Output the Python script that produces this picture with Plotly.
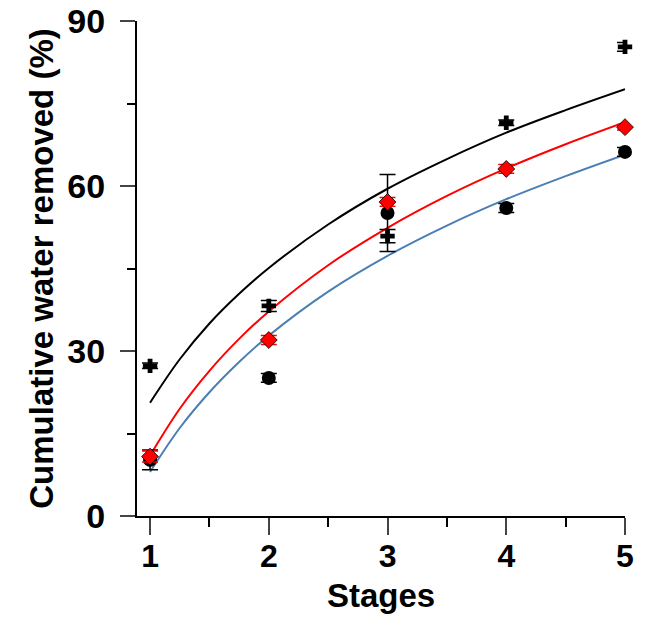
import plotly.graph_objects as go

stages = [1, 2, 3, 4, 5]

# measured points
cross_vals = [27.3, 38.2, 50.9, 71.5, 85.3]
cross_err = [0.5, 1.0, 1.2, 0.5, 0.8]
circle_vals = [10.2, 25.1, 55.1, 56.0, 66.2]
circle_err = [1.8, 0.8, 7.0, 0.8, 0.8]
diamond_vals = [10.8, 32.0, 57.1, 63.1, 70.7]
diamond_err = [1.0, 0.8, 0.8, 0.8, 0.5]

# fitted curves
curve_x = [1, 1.25, 1.5, 1.75, 2, 2.5, 3, 3.5, 4, 4.5, 5]
curve_black = [20.6, 28.5, 35.0, 40.4, 45.1, 53.0, 59.5, 64.9, 69.7, 73.8, 77.6]
curve_red = [11.0, 19.5, 26.4, 32.2, 37.2, 45.6, 52.4, 58.2, 63.2, 67.6, 71.6]
curve_blue = [8.0, 16.0, 22.5, 28.0, 32.8, 40.8, 47.3, 52.8, 57.6, 61.8, 65.7]

x_ticks = [1, 2, 3, 4, 5]
y_ticks = [0, 30, 60, 90]

FONT = "Liberation Sans, Arial, sans-serif"

fig = go.Figure()

for ys, col in [(curve_black, "#000000"), (curve_red, "#FF0000"), (curve_blue, "#4A7EB5")]:
    fig.add_trace(go.Scatter(x=curve_x, y=ys, mode="lines", line=dict(color=col, width=2, shape="spline"),
                             showlegend=False, hoverinfo="skip", cliponaxis=False))

fig.add_trace(go.Scatter(
    x=stages, y=circle_vals, mode="markers",
    marker=dict(symbol="circle", size=14, color="#000000"),
    error_y=dict(type="data", array=circle_err, color="#000000", thickness=1.5, width=8),
    showlegend=False, cliponaxis=False))
fig.add_trace(go.Scatter(
    x=stages, y=diamond_vals, mode="markers",
    marker=dict(symbol="diamond", size=13, color="#FF0000", line=dict(color="#000000", width=0.8)),
    error_y=dict(type="data", array=diamond_err, color="#FF0000", thickness=1.5, width=8),
    showlegend=False, cliponaxis=False))
fig.add_trace(go.Scatter(
    x=stages, y=cross_vals, mode="markers",
    marker=dict(symbol="cross", size=12, color="#000000"),
    error_y=dict(type="data", array=cross_err, color="#000000", thickness=1.5, width=8),
    showlegend=False, cliponaxis=False))

fig.update_layout(
    width=646, height=618,
    margin=dict(l=137, r=21, t=21, b=102),
    plot_bgcolor="white", paper_bgcolor="white",
    font=dict(family=FONT, color="#000000"),
)
fig.update_xaxes(
    range=[0.89, 5], tickvals=x_ticks, ticks="outside", ticklen=17, tickwidth=2,
    showline=True, linecolor="#000000", linewidth=2, showgrid=False, zeroline=False,
    automargin=False, ticklabelstandoff=-6,
    tickfont=dict(size=32, family=FONT, weight="bold"),
    minor=dict(tickvals=[1.5, 2.5, 3.5, 4.5], ticks="outside", ticklen=9, tickwidth=2, tickcolor="#000000", showgrid=False),
    title=dict(text="Stages", font=dict(size=33, family=FONT, weight="bold"), standoff=10),
)
fig.update_yaxes(
    range=[0, 90], tickvals=y_ticks, ticks="outside", ticklen=15, tickwidth=2,
    showline=True, linecolor="#000000", linewidth=2, showgrid=False, zeroline=False,
    automargin=False, ticklabelstandoff=8,
    tickfont=dict(size=34, family=FONT, weight="bold"),
    minor=dict(tickvals=[15, 45, 75], ticks="outside", ticklen=8, tickwidth=2, tickcolor="#000000", showgrid=False),
    title=dict(text="Cumulative water removed (%)", font=dict(size=33, family=FONT, weight="bold"), standoff=4),
)

fig.write_html("out.html")
